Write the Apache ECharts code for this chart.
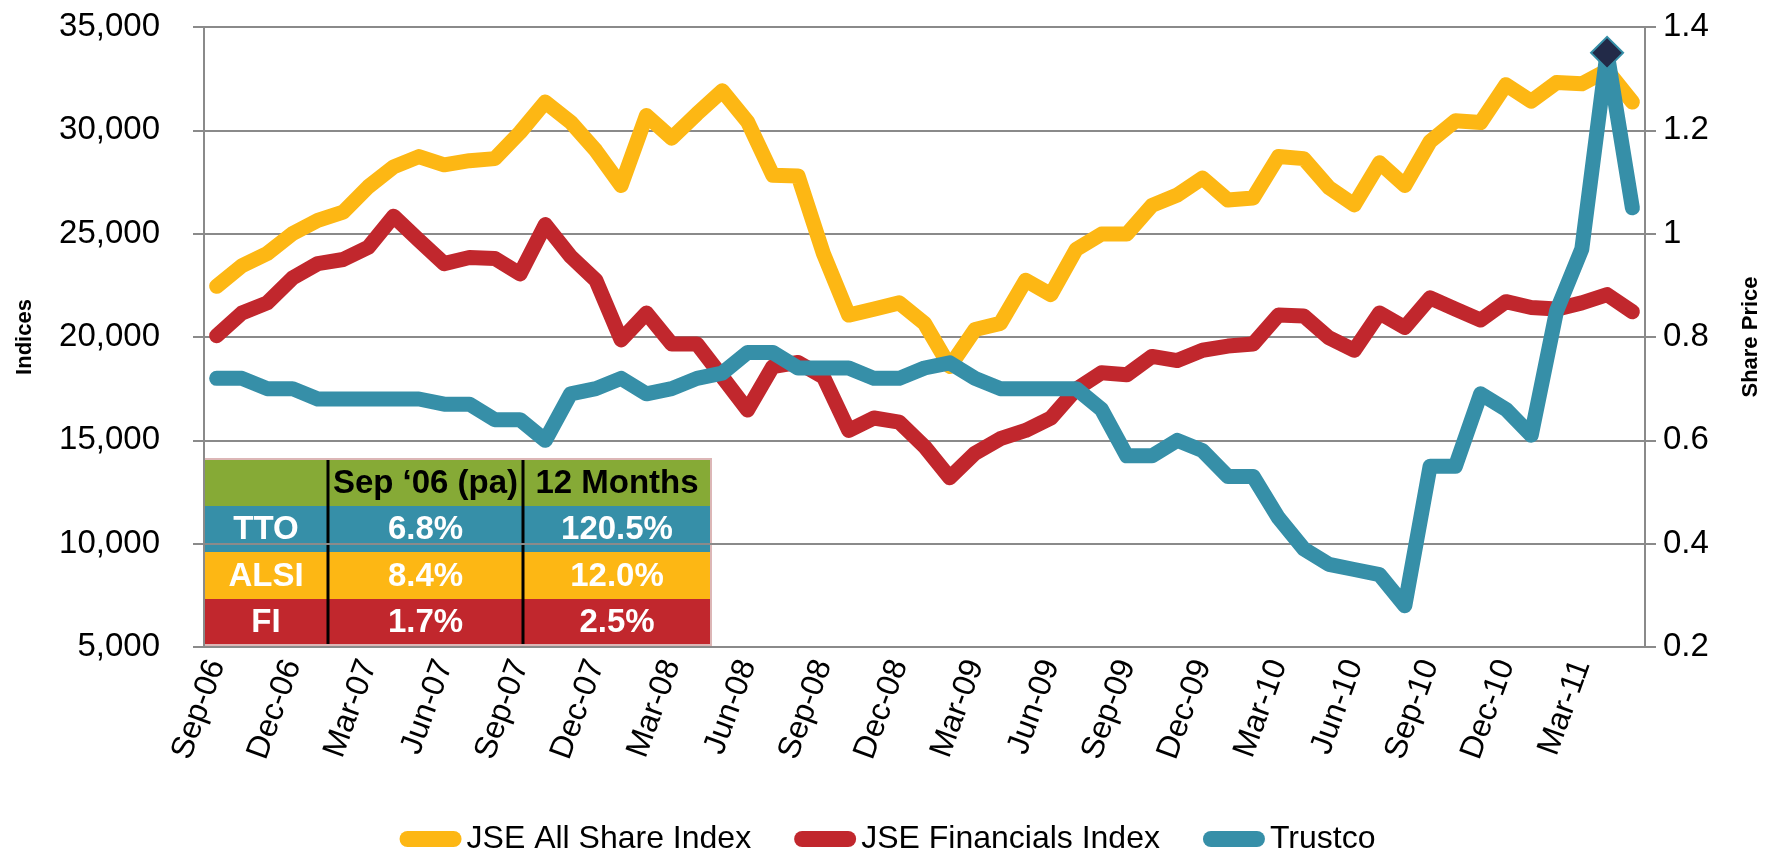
<!DOCTYPE html>
<html>
<head>
<meta charset="utf-8">
<title>JSE indices vs Trustco</title>
<script src="https://cdn.jsdelivr.net/npm/echarts@6/dist/echarts.min.js"></script>
<style>
  html, body { margin: 0; padding: 0; background: #fff; }
  #chart { width: 1775px; height: 866px; }
</style>
</head>
<body>
<div id="chart"></div>
<script>
// monthly closes, Sep-06 .. May-11
const months = [
  'Sep-06', 'Oct-06', 'Nov-06', 'Dec-06', 'Jan-07', 'Feb-07', 'Mar-07', 'Apr-07', 'May-07', 'Jun-07',
  'Jul-07', 'Aug-07', 'Sep-07', 'Oct-07', 'Nov-07', 'Dec-07', 'Jan-08', 'Feb-08', 'Mar-08', 'Apr-08',
  'May-08', 'Jun-08', 'Jul-08', 'Aug-08', 'Sep-08', 'Oct-08', 'Nov-08', 'Dec-08', 'Jan-09', 'Feb-09',
  'Mar-09', 'Apr-09', 'May-09', 'Jun-09', 'Jul-09', 'Aug-09', 'Sep-09', 'Oct-09', 'Nov-09', 'Dec-09',
  'Jan-10', 'Feb-10', 'Mar-10', 'Apr-10', 'May-10', 'Jun-10', 'Jul-10', 'Aug-10', 'Sep-10', 'Oct-10',
  'Nov-10', 'Dec-10', 'Jan-11', 'Feb-11', 'Mar-11', 'Apr-11', 'May-11'
]

const alsi = [
  22450, 23450, 24040, 25000, 25640, 26040, 27270, 28230, 28730, 28330,
  28530, 28630, 29900, 31370, 30400, 29020, 27330, 30720, 29620, 30800,
  31910, 30420, 27830, 27790, 24040, 21060, 21350, 21650, 20660, 18570,
  20360, 20660, 22750, 22050, 24240, 24980, 24980, 26370, 26870, 27690,
  26630, 26730, 28730, 28630, 27230, 26390, 28430, 27330, 29460, 30460,
  30380, 32210, 31410, 32310, 32250, 32900, 31370
]

const financials = [
  20060, 21160, 21650, 22850, 23550, 23750, 24340, 25840, 24680, 23550,
  23850, 23800, 23050, 25440, 23900, 22750, 19860, 21160, 19660, 19660,
  18070, 16470, 18570, 18770, 18070, 15480, 16080, 15880, 14700, 13190,
  14380, 15080, 15480, 16080, 17470, 18270, 18170, 19060, 18860, 19360,
  19560, 19660, 21060, 21020, 19960, 19360, 21160, 20460, 21890, 21350,
  20820, 21710, 21430, 21350, 21650, 22050, 21220
]

const trustco = [
  0.72, 0.72, 0.70, 0.70, 0.68, 0.68, 0.68, 0.68, 0.68, 0.67,
  0.67, 0.64, 0.64, 0.60, 0.69, 0.70, 0.72, 0.69, 0.70, 0.72,
  0.73, 0.77, 0.77, 0.74, 0.74, 0.74, 0.72, 0.72, 0.74, 0.75,
  0.72, 0.70, 0.70, 0.70, 0.70, 0.66, 0.57, 0.57, 0.60, 0.58,
  0.53, 0.53, 0.45, 0.39, 0.36, 0.35, 0.34, 0.28, 0.55, 0.55,
  0.69, 0.66, 0.61, 0.85, 0.97, 1.35, 1.05
]
const trustcoPeak = 55

const tableHeader = ['', 'Sep \u201806 (pa)', '12 Months']
const tableRows = [
  ['TTO', '6.8%', '120.5%'],
  ['ALSI', '8.4%', '12.0%'],
  ['FI', '1.7%', '2.5%']
]

const YELLOW = '#fdb714'
const RED = '#c1272d'
const TEAL = '#368fa8'
const GREEN = '#86aa36'
const GRID_GREY = '#8a8a8a'
const FONT = 'Liberation Sans'

// summary table overlay, pixel layout
const colX = [204, 328, 523, 711]
const rowY = [459, 506, 552, 599, 645]
const rowFill = [GREEN, TEAL, YELLOW, RED]

function buildTable() {
  const els = []
  const rows = [tableHeader].concat(tableRows)
  rows.forEach((row, r) => {
    els.push({
      type: 'rect',
      shape: { x: colX[0], y: rowY[r], width: colX[3] - colX[0], height: rowY[r + 1] - rowY[r] },
      style: { fill: rowFill[r] }
    })
    row.forEach((txt, c) => {
      if (!txt) return
      els.push({
        type: 'text',
        x: (colX[c] + colX[c + 1]) / 2,
        y: (rowY[r] + rowY[r + 1]) / 2 + 1,
        style: {
          text: txt,
          fill: r === 0 ? '#000' : '#fff',
          font: 'bold 33px "' + FONT + '"',
          align: 'center',
          verticalAlign: 'middle'
        }
      })
    })
  })
  ;[colX[1], colX[2]].forEach(x => {
    els.push({
      type: 'line',
      shape: { x1: x, y1: rowY[0], x2: x, y2: rowY[4] },
      style: { stroke: '#000', lineWidth: 3 }
    })
  })
  els.push({
    type: 'rect',
    shape: { x: colX[0], y: rowY[0], width: colX[3] - colX[0], height: rowY[4] - rowY[0] },
    style: { fill: null, stroke: '#dcb6b6', lineWidth: 2 }
  })
  return els
}

const chart = echarts.init(document.getElementById('chart'), null, { renderer: 'canvas' })

const lineBase = { width: 15, cap: 'round', join: 'round' }

chart.setOption({
  backgroundColor: '#fff',
  animation: false,
  textStyle: { fontFamily: FONT, color: '#000' },
  grid: { left: 204, right: 130, top: 27, bottom: 219, outerBoundsMode: 'none' },
  legend: {
    left: 'center',
    top: 818,
    itemWidth: 62,
    itemHeight: 16,
    itemGap: 43,
    icon: 'path://M8,0 H54 A8,8 0 0 1 54,16 H8 A8,8 0 0 1 8,0 Z',
    textStyle: { fontSize: 32, color: '#000', fontFamily: FONT },
    data: ['JSE All Share Index', 'JSE Financials Index', 'Trustco']
  },
  xAxis: {
    type: 'category',
    data: months,
    boundaryGap: true,
    axisLine: { lineStyle: { color: GRID_GREY, width: 2 } },
    axisTick: { interval: 2, length: 10, lineStyle: { color: GRID_GREY, width: 2 } },
    axisLabel: { interval: 2, rotate: 70, margin: 14, fontSize: 32, color: '#000', fontFamily: FONT }
  },
  yAxis: [
    {
      type: 'value',
      min: 5000,
      max: 35000,
      interval: 5000,
      name: 'Indices',
      nameLocation: 'middle',
      nameRotate: 90,
      nameGap: 168,
      nameTextStyle: { fontSize: 22, fontWeight: 'bold', color: '#000', fontFamily: FONT },
      axisLine: { show: true, lineStyle: { color: GRID_GREY, width: 2 } },
      axisTick: { show: true, inside: false, length: 11, lineStyle: { color: GRID_GREY, width: 2 } },
      axisLabel: {
        margin: 44,
        fontSize: 33,
        color: '#000',
        fontFamily: FONT,
        formatter: v => v.toLocaleString('en-US')
      },
      splitLine: { show: true, lineStyle: { color: GRID_GREY, width: 2 } }
    },
    {
      type: 'value',
      min: 0.2,
      max: 1.4,
      interval: 0.2,
      position: 'right',
      name: 'Share Price',
      nameLocation: 'middle',
      nameRotate: 90,
      nameGap: 95,
      nameTextStyle: { fontSize: 22, fontWeight: 'bold', color: '#000', fontFamily: FONT },
      axisLine: { show: true, lineStyle: { color: GRID_GREY, width: 2 } },
      axisTick: { show: true, inside: false, length: 11, lineStyle: { color: GRID_GREY, width: 2 } },
      axisLabel: {
        margin: 18,
        fontSize: 33,
        color: '#000',
        fontFamily: FONT,
        formatter: v => String(Math.round(v * 10) / 10)
      },
      splitLine: { show: false }
    }
  ],
  series: [
    {
      name: 'JSE All Share Index',
      type: 'line',
      yAxisIndex: 0,
      data: alsi,
      symbol: 'none',
      color: YELLOW,
      lineStyle: Object.assign({ color: YELLOW }, lineBase),
      z: 2
    },
    {
      name: 'JSE Financials Index',
      type: 'line',
      yAxisIndex: 0,
      data: financials,
      symbol: 'none',
      color: RED,
      lineStyle: Object.assign({ color: RED }, lineBase),
      z: 3
    },
    {
      name: 'Trustco',
      type: 'line',
      yAxisIndex: 1,
      symbol: 'none',
      showSymbol: true,
      showAllSymbol: true,
      color: TEAL,
      lineStyle: Object.assign({ color: TEAL }, lineBase),
      data: trustco.map((v, i) => i === trustcoPeak
        ? { value: v, symbol: 'diamond', symbolSize: [32, 32], itemStyle: { color: '#222a48', borderColor: TEAL, borderWidth: 2 } }
        : v),
      z: 4
    }
  ],
  graphic: { elements: [{ type: 'group', z: 100, children: buildTable() }] }
})
</script>
</body>
</html>
